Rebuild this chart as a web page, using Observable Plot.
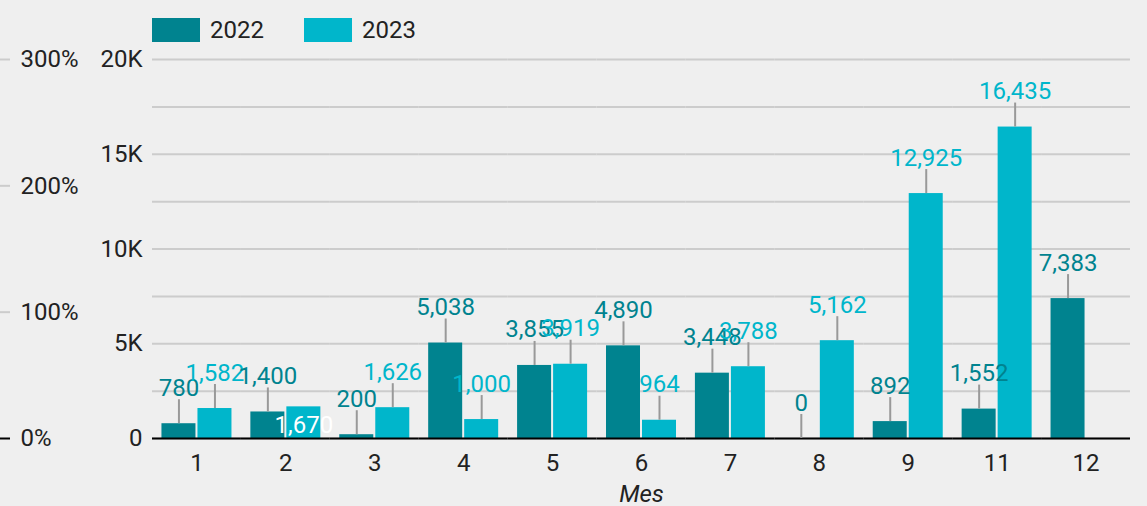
<!DOCTYPE html>
<html><head><meta charset="utf-8">
<script src="https://cdn.jsdelivr.net/npm/d3@7"></script>
<script src="https://cdn.jsdelivr.net/npm/@observablehq/plot@0.6"></script>
<style>
body{margin:0;background:#efefef;font-family:Roboto,sans-serif;}
#wrap{position:relative;width:1147px;height:506px;overflow:hidden;}
#legend{height:50px;position:relative;}
.item{position:absolute;top:18px;display:flex;align-items:center;font-size:24px;line-height:24px;color:#222;}
.sw{width:48px;height:24px;margin-right:10px;}
#pct{position:absolute;left:0;top:50px;}
g[aria-label="fx-axis label"] text{font-style:italic}
</style></head>
<body>
<div id="wrap">
  <div id="legend"></div>
  <div id="main"></div>
  <div id="pct"></div>
</div>
<script>
const months = ["1","2","3","4","5","6","7","8","9","11","12"];
const years = ["2022","2023"];
const v2022 = [780,1400,200,5038,3855,4890,3448,0,892,1552,7383];
const v2023 = [1582,1670,1626,1000,3919,964,3788,5162,12925,16435,null];
const colors = ["#00838f","#00b6cb"];
const yTicks = [0,5000,10000,15000,20000];
const gridTicks = [0,2500,5000,7500,10000,12500,15000,17500,20000];
const pctTicks = [0,100,200,300];
const insideLabel = {month:"2", year:"2023"};

const rows = months.flatMap((m,i)=>[
  {month:m, year:"2022", value:v2022[i]},
  {month:m, year:"2023", value:v2023[i]}
]).filter(d=>d.value!=null);
const isInside = d => d.month===insideLabel.month && d.year===insideLabel.year;
const outsideRows = rows.filter(d=>!isInside(d));
const insideRows = rows.filter(isInside);
const fmt = d3.format(",");

// legend
const legend = document.getElementById("legend");
years.forEach((y,i)=>{
  const it = document.createElement("div");
  it.className="item";
  it.style.left = (152 + i*152) + "px";
  it.innerHTML = `<span class="sw" style="background:${colors[i]}"></span><span>${y}</span>`;
  legend.appendChild(it);
});

const style = {background:"transparent", fontFamily:"Roboto", fontSize:"24px", color:"#222", overflow:"visible"};

const chart = Plot.plot({
  width:1147, height:456,
  marginTop:9, marginBottom:68, marginLeft:152, marginRight:17,
  style,
  fx:{domain:months, padding:0, round:false, label:"Mes"},
  x:{domain:years, paddingInner:0.0556, paddingOuter:0.2625, round:false, axis:null},
  y:{domain:[0,20000]},
  color:{domain:years, range:colors},
  marks:[
    Plot.gridY(gridTicks, {stroke:"#cccccc", strokeOpacity:1, strokeWidth:2}),
    Plot.axisY(yTicks, {tickSize:0, tickPadding:10, tickFormat:d=> d===0 ? "0" : (d/1000)+"K", label:null}),
    Plot.axisFx({anchor:"bottom", tickSize:0, tickPadding:15, label:"Mes", labelAnchor:"center", labelOffset:63}),
    Plot.barY(rows, {fx:"month", x:"year", y:"value", fill:"year"}),
    Plot.ruleY([0], {stroke:"#000", strokeWidth:2}),
    Plot.ruleX(outsideRows, {fx:"month", x:"year", y1:"value", y2:"value", insetTop:-24, stroke:"#999", strokeWidth:2}),
    Plot.text(outsideRows, {fx:"month", x:"year", y:"value", text:d=>fmt(d.value), fill:"year", dy:-28, lineAnchor:"bottom", fontSize:24}),
    Plot.text(insideRows, {fx:"month", x:"year", y:0, text:d=>fmt(d.value), fill:"#fff", dy:-6, lineAnchor:"bottom", fontSize:24})
  ]
});
document.getElementById("main").appendChild(chart);
chart.querySelectorAll("text").forEach(t=>{ if (t.textContent==="Mes") t.style.fontStyle="italic"; });

const pct = Plot.plot({
  width:150, height:456, marginTop:9, marginBottom:68, marginLeft:10, marginRight:0,
  style,
  y:{domain:[0,300]},
  marks:[
    Plot.axisY(pctTicks.filter(d=>d>0), {anchor:"left", tickSize:10, tickPadding:0, stroke:"#cccccc", strokeWidth:2, tickFormat:()=>"", label:null}),
    Plot.axisY([0], {anchor:"left", tickSize:10, tickPadding:0, stroke:"#000", strokeWidth:2, tickFormat:()=>"", label:null}),
    Plot.axisY(pctTicks, {anchor:"left", tickSize:0, tickPadding:0, dx:10, textAnchor:"start", tickFormat:d=>d+"%", label:null})
  ]
});
document.getElementById("pct").appendChild(pct);
</script>
</body></html>
